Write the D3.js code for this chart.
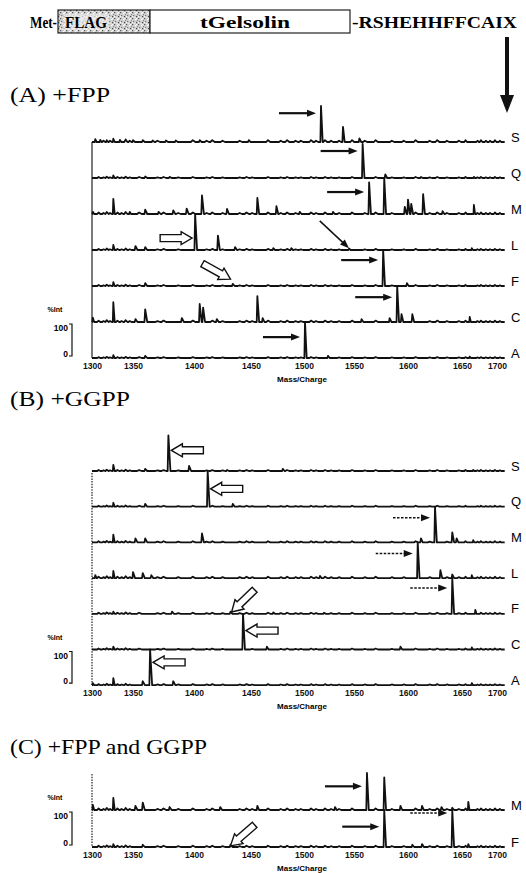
<!DOCTYPE html>
<html><head><meta charset="utf-8">
<script src="https://cdn.jsdelivr.net/npm/d3@7"></script>
<style>body{margin:0;background:#fff}svg{display:block}</style>
</head><body><svg id="c" width="526" height="873"></svg>
<script>
// ---------- data ----------
const tickValues = [1300,1350,1400,1450,1500,1550,1600,1650,1700];
const rowsABC = ["S","Q","M","L","F","C","A"];
const rowsC = ["M","F"];

// (A) +FPP  [m/z, %Int]
const fppS = [[1304,8],[1310,6],[1318,5],[1326,9],[1334,6],[1350,5],[1358,5],[1366,4],[1377,4],[1385,4],[1405,5],[1448,5],[1517,100],[1539,42],[1555,10]];
const fppQ = [[1326,7],[1360,4],[1380,3],[1558,95],[1579,10],[1612,3],[1667,3]];
const fppM = [[1301,6],[1326,42],[1346,6],[1360,12],[1371,6],[1383,10],[1394,15],[1407,52],[1429,14],[1456,45],[1474,22],[1496,6],[1529,6],[1564,88],[1578,100],[1597,20],[1600,40],[1603,28],[1614,55],[1632,8],[1667,25]];
const fppL = [[1326,14],[1352,11],[1360,8],[1401,100],[1421,40],[1436,8],[1471,5],[1488,5],[1545,4],[1664,5]];
const fppF = [[1326,11],[1360,8],[1434,6],[1577,100],[1599,8]];
const fppC = [[1301,12],[1326,55],[1352,8],[1360,35],[1390,11],[1405,50],[1408,40],[1420,8],[1456,72],[1461,11],[1557,8],[1583,11],[1590,100],[1594,22],[1604,22],[1661,14]];
const fppA = [[1326,8],[1360,6],[1501,100],[1524,6],[1661,4]];

// (B) +GGPP
const ggppS = [[1326,17],[1360,6],[1379,100],[1396,14],[1429,3],[1480,6],[1666,3]];
const ggppQ = [[1326,11],[1360,8],[1412,100],[1434,8]];
const ggppM = [[1326,22],[1352,11],[1360,11],[1407,25],[1612,11],[1625,100],[1641,28],[1645,11],[1666,6]];
const ggppL = [[1304,8],[1326,20],[1350,17],[1358,14],[1365,8],[1516,6],[1609,100],[1630,22],[1641,10],[1664,8]];
const ggppF = [[1326,6],[1382,6],[1432,6],[1471,4],[1520,3],[1641,100],[1669,11]];
const ggppC = [[1326,8],[1443,100],[1465,8],[1593,8],[1664,6]];
const ggppA = [[1301,6],[1326,20],[1358,11],[1364,100],[1383,11],[1664,6]];

// (C) +FPP and GGPP
const bothM = [[1301,14],[1326,33],[1352,11],[1358,20],[1380,8],[1423,8],[1456,11],[1531,8],[1562,100],[1578,88],[1593,11],[1613,11],[1631,8],[1641,6],[1659,22]];
const bothF = [[1326,8],[1358,6],[1432,6],[1578,100],[1604,6],[1613,8],[1641,100],[1659,8]];

// baseline ripple (m/z, %Int)
const noiseMz  = [1308,1314,1318,1322,1331,1336,1341,1346,1355,1370,1375,1387,1399,1411,1416,1425,1440,1446,1451,1466,1478,1484,1492,1497,1507,1512,1521,1527,1535,1548,1560,1570,1585,1596,1607,1620,1627,1636,1647,1655,1672,1677,1684,1690,1697,1704];
const noisePct = [3,2,4,2,3,2,4,2,3,2,3,2,3,2,3,2,2,3,2,3,2,3,2,2,3,2,3,2,2,3,2,3,2,2,3,2,3,2,2,3,2,3,2,2,3,2];
const noiseFpp  = [1.7,0.9,1.4,1.0,0.9,1.3,0.8];
const noiseGgpp = [0.9,0.9,1.1,1.3,1.0,0.9,1.0];
const noiseBoth = [1.4,1.1];

// annotations: [row, m/z, %Int, kind, angle]
const arrowsFpp = [[0,1517,80,"solid"],[1,1558,75,"solid"],[2,1564,61,"solid"],[3,1401,33,"hollowR"],[3,1545,5,"thin",43],[4,1577,72,"solid"],[4,1432,19,"hollowD",29],[5,1590,69,"solid"],[6,1501,58,"solid"]];
const arrowsGgpp = [[0,1379,58,"hollowL"],[1,1412,50,"hollowL"],[2,1625,69,"dashed"],[3,1609,69,"dashed"],[4,1641,72,"dashed"],[4,1433,5,"hollowD",136],[5,1443,53,"hollowL"],[6,1364,64,"hollowL"]];
const arrowsBoth = [[0,1562,64,"solid"],[1,1578,55,"solid"],[1,1641,92,"dashed"],[1,1432,3,"hollowD",139]];

// ---------- layout ----------
const svg = d3.select("#c");
const tickPixels = [92,133,194,251,304,354,408,462,497];
const x = d3.scaleLinear().domain(tickValues).range(tickPixels);
const mzEnd = 1711;
const sans = "'Liberation Sans', Arial, sans-serif";
const serif = "'Liberation Serif', 'Times New Roman', serif";

const panels = [
  {title:"(A) +FPP", tY:102, tLen:100, labels:rowsABC, data:[fppS,fppQ,fppM,fppL,fppF,fppC,fppA], noise:noiseFpp, first:142, step:36, dash:null, arrows:arrowsFpp, frameTop:142},
  {title:"(B) +GGPP", tY:406, tLen:120, labels:rowsABC, data:[ggppS,ggppQ,ggppM,ggppL,ggppF,ggppC,ggppA], noise:noiseGgpp, first:471, step:35.7, dash:"1.5,1.2", arrows:arrowsGgpp, frameTop:473},
  {title:"(C) +FPP and GGPP", tY:754, tLen:197, labels:rowsC, data:[bothM,bothF], noise:noiseBoth, first:810, step:37, dash:"1.5,1.2", arrows:arrowsBoth, frameTop:774}
];

// ---------- header ----------
const defs = svg.append("defs");
const pat = defs.append("pattern").attr("id","speck").attr("width",6).attr("height",6).attr("patternUnits","userSpaceOnUse");
pat.append("rect").attr("width",6).attr("height",6).attr("fill","#d0d0d0");
[[0,0,"#555"],[3,1,"#fff"],[1,3,"#777"],[4,4,"#444"],[2,5,"#eee"],[5,2,"#888"],[4,0,"#fff"],[0,4,"#fff"]].forEach(d=>
  pat.append("rect").attr("x",d[0]).attr("y",d[1]).attr("width",1.2).attr("height",1.2).attr("fill",d[2]));

svg.append("text").attr("x",30).attr("y",28).attr("font-family",serif).attr("font-weight","bold")
  .attr("font-size",17).attr("textLength",27).attr("lengthAdjust","spacingAndGlyphs").text("Met-");
svg.append("rect").attr("x",58).attr("y",10).attr("width",92).attr("height",23).attr("fill","url(#speck)").attr("stroke","#222").attr("stroke-width",1.2);
svg.append("rect").attr("x",150).attr("y",10).attr("width",200).attr("height",23).attr("fill","#fff").attr("stroke","#222").attr("stroke-width",1.2);
svg.append("rect").attr("x",64).attr("y",14).attr("width",45).attr("height",16).attr("fill","#eee").attr("opacity",0.7);
svg.append("text").attr("x",65).attr("y",28).attr("font-family",serif).attr("font-weight","bold")
  .attr("font-size",17).attr("textLength",42).attr("lengthAdjust","spacingAndGlyphs").text("FLAG");
svg.append("text").attr("x",200).attr("y",28).attr("font-family",serif).attr("font-weight","bold")
  .attr("font-size",16).attr("textLength",90).attr("lengthAdjust","spacingAndGlyphs").text("tGelsolin");
svg.append("text").attr("x",352).attr("y",28).attr("font-family",serif).attr("font-weight","bold")
  .attr("font-size",16).attr("textLength",165).attr("lengthAdjust","spacingAndGlyphs").text("-RSHEHHFFCAIX");
svg.append("rect").attr("x",505).attr("y",37).attr("width",4).attr("height",60).attr("fill","#111");
svg.append("path").attr("d","M500,95 L514,95 L507,113 Z").attr("fill","#111");

// ---------- panels ----------
function drawArrow(g, a, rowY) {
  const [row, mz, pct, kind, angle] = a;
  const y = rowY[row](pct);
  if (kind === "solid" || kind === "dashed") {
    const tip = x(mz) - 5, len = 37;
    g.append("line").attr("x1",tip-len).attr("x2",tip-7).attr("y1",y).attr("y2",y)
      .attr("stroke","#111").attr("stroke-width",kind==="solid"?2.2:1.5)
      .attr("stroke-dasharray",kind==="solid"?null:"2.5,1.5");
    g.append("path").attr("d",`M${tip},${y} L${tip-9},${y-3.5} L${tip-9},${y+3.5} Z`).attr("fill","#111");
  } else if (kind === "thin") {
    const gg = g.append("g").attr("transform",`translate(${x(mz)},${y}) rotate(${angle})`);
    gg.append("line").attr("x1",-40).attr("x2",-6).attr("y1",0).attr("y2",0).attr("stroke","#111").attr("stroke-width",1.5);
    gg.append("path").attr("d","M0,0 L-9,-3.5 L-9,3.5 Z").attr("fill","#111");
  } else {
    let tx, ang;
    if (kind === "hollowR") { tx = x(mz) - 3; ang = 0; }
    else if (kind === "hollowL") { tx = x(mz) + 3; ang = 180; }
    else { tx = x(mz); ang = angle; }
    g.append("path").attr("transform",`translate(${tx},${y}) rotate(${ang})`)
      .attr("d","M0,0 L-11,-6.5 L-11,-3.5 L-32,-3.5 L-32,3.5 L-11,3.5 L-11,6.5 Z")
      .attr("fill","#fff").attr("stroke","#111").attr("stroke-width",1.4).attr("stroke-linejoin","miter");
  }
}

panels.forEach(p => {
  const g = svg.append("g");
  g.append("text").attr("x",10).attr("y",p.tY).attr("font-family",serif).attr("font-size",22)
    .attr("textLength",p.tLen).attr("lengthAdjust","spacingAndGlyphs").text(p.title);

  const n = p.data.length;
  const baselines = d3.range(n).map(i => p.first + i*p.step);
  const rowY = baselines.map(b => d3.scaleLinear().domain([0,100]).range([b, b - p.step]));
  const last = baselines[n-1];

  g.append("line").attr("x1",x(1300)).attr("x2",x(1300)).attr("y1",p.frameTop).attr("y2",last)
    .attr("stroke","#222").attr("stroke-width",1.2).attr("stroke-dasharray",p.dash);

  const line = d3.line().x(d=>x(d[0])).curve(d3.curveLinear);
  p.data.forEach((peaks,i) => {
    const pts = peaks.map(d=>({mz:d[0], h:d[1], wl:0.6, wr:1.7}));
    noiseMz.forEach((m,k) => {
      if (!peaks.some(d=>Math.abs(d[0]-m) < 3.5)) pts.push({mz:m, h:noisePct[k]*p.noise[i], wl:1.6, wr:2.2});
    });
    pts.sort((a,b)=>a.mz-b.mz);
    const path = [[1300,0]];
    pts.forEach(q => { path.push([q.mz-q.wl,0],[q.mz,q.h],[q.mz+q.wr,0]); });
    path.push([mzEnd,0]);
    g.append("path").attr("d", line.y(d=>rowY[i](d[1]))(path))
      .attr("fill","none").attr("stroke","#111").attr("stroke-width",1.8).attr("stroke-linejoin","round");
    g.append("text").attr("x",511).attr("y",baselines[i]-0.5).attr("font-family",sans).attr("font-size",13)
      .text(p.labels[i]);
  });

  p.arrows.forEach(a => drawArrow(g, a, rowY));

  const ax = g.append("g").attr("transform",`translate(0,${last+5})`)
    .call(d3.axisBottom(x).tickValues(tickValues).tickSize(0).tickPadding(0).tickFormat(d3.format("d")));
  ax.select(".domain").remove();
  ax.selectAll("text").attr("font-family",sans).attr("font-size",8.5).attr("font-weight","bold").attr("fill","#111");
  g.append("text").attr("x",302).attr("y",last+24).attr("text-anchor","middle").attr("font-family",sans)
    .attr("font-size",8).attr("font-weight","bold").text("Mass/Charge");

  const top = baselines[n-2];
  g.append("text").attr("x",55).attr("y",top-10).attr("text-anchor","middle").attr("font-family",sans)
    .attr("font-size",7).attr("font-weight","bold").text("%Int");
  g.append("text").attr("x",68).attr("y",top+9).attr("text-anchor","end").attr("font-family",sans)
    .attr("font-size",8.5).attr("font-weight","bold").text("100");
  g.append("text").attr("x",68).attr("y",last-1).attr("text-anchor","end").attr("font-family",sans)
    .attr("font-size",8.5).attr("font-weight","bold").text("0");
  g.append("path").attr("d",`M69,${top+2} H72 V${last-2} H69`).attr("fill","none").attr("stroke","#111").attr("stroke-width",1.2);
});
</script></body></html>
